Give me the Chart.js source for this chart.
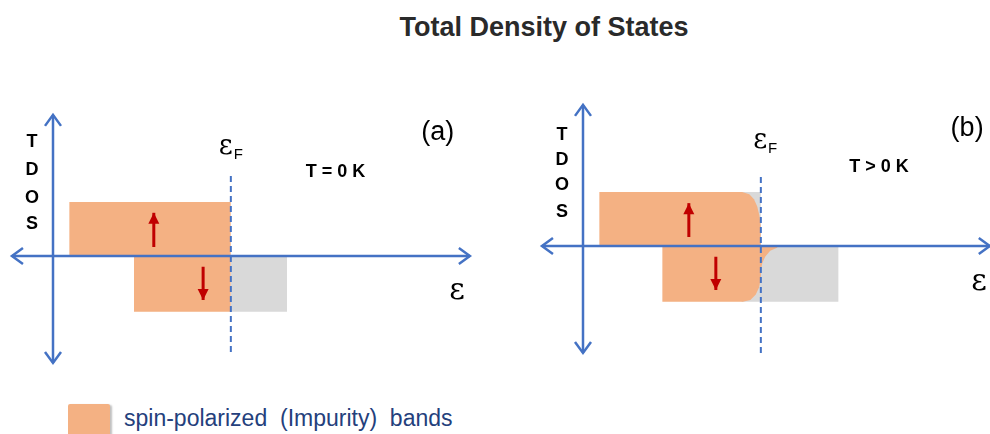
<!DOCTYPE html>
<html>
<head>
<meta charset="utf-8">
<title>Total Density of States</title>
<script src="https://cdn.jsdelivr.net/npm/chart.js@4.4.1/dist/chart.umd.min.js"></script>
<style>
  html, body { margin: 0; padding: 0; width: 990px; height: 434px; overflow: hidden; background: #fff; }
  .title {
    position: absolute; left: 0; width: 1088px; top: 12px; text-align: center;
    font: bold 27px "Liberation Sans", Arial, sans-serif; color: #2a2a2a;
  }
  .panel { position: absolute; }
  #panelA { left: -1px; top: 94px; }
  #panelB { left: 529px; top: 84px; }
  .legend { position: absolute; left: 68px; top: 404px; }
  .legend .swatch {
    position: absolute; left: 0; top: 0; width: 42px; height: 40px;
    background: #f4b183; border-radius: 2px; box-shadow: 2px 1px 2px rgba(0,0,0,0.25);
  }
  .legend .label {
    position: absolute; left: 56px; top: 1px; white-space: nowrap;
    font: 23px "Liberation Sans", Arial, sans-serif; color: #24407c;
  }
</style>
</head>
<body>
<div class="title">Total Density of States</div>
<div class="panel" id="panelA"><canvas id="dosA" width="504" height="306"></canvas></div>
<div class="panel" id="panelB"><canvas id="dosB" width="504" height="306"></canvas></div>
<div class="legend"><div class="swatch"></div><div class="label">spin-polarized &nbsp;(Impurity) &nbsp;bands</div></div>

<script>
// Energy (x) and density of states (y) in schematic units, origin at the axis crossing.
const fermiLevel = 4.94;

// (a) T = 0 K: sharp band edges at the Fermi level
const spinUpBandA = [{x: 0.45, y: 0}, {x: 0.45, y: 1.5}, {x: 4.94, y: 1.5}, {x: 4.94, y: 0}];
const spinDownBandA = [{x: 2.25, y: 0}, {x: 2.25, y: -1.55}, {x: 4.94, y: -1.55}, {x: 4.94, y: 0}];
const emptyDownA = [{x: 4.94, y: 0}, {x: 4.94, y: -1.55}, {x: 6.5, y: -1.55}, {x: 6.5, y: 0}];

// (b) T > 0 K: occupation smeared around the Fermi level
const spinUpBandB = [
  {x: 0.45, y: 0}, {x: 0.45, y: 1.5}, {x: 4.42, y: 1.5}, {x: 4.62, y: 1.44},
  {x: 4.75, y: 1.3}, {x: 4.84, y: 1.1}, {x: 4.9, y: 0.85}, {x: 4.94, y: 0.55}, {x: 4.94, y: 0}
];
const spinDownBandB = [
  {x: 2.2, y: 0}, {x: 2.2, y: -1.55}, {x: 4.44, y: -1.55}, {x: 4.65, y: -1.5},
  {x: 4.8, y: -1.35}, {x: 4.89, y: -1.15}, {x: 4.94, y: -0.9}, {x: 4.94, y: -0.68},
  {x: 4.98, y: -0.48}, {x: 5.06, y: -0.3}, {x: 5.2, y: -0.13}, {x: 5.39, y: -0.05}, {x: 5.42, y: 0}
];
const emptyUpB = [{x: 4.4, y: 0}, {x: 4.4, y: 1.5}, {x: 4.94, y: 1.5}, {x: 4.94, y: 0}];
const emptyDownB = [{x: 4.4, y: 0}, {x: 4.4, y: -1.55}, {x: 7.1, y: -1.55}, {x: 7.1, y: 0}];

// axes, Fermi level marker and spin arrows
const energyAxisA = [{x: -1.14, y: 0}, {x: 11.58, y: 0}];
const energyAxisB = [{x: -1.14, y: 0}, {x: 11.3, y: 0}];
const dosAxis = [{x: 0, y: -2.97}, {x: 0, y: 3.92}];
const fermiA = [{x: fermiLevel, y: -2.67}, {x: fermiLevel, y: 2.33}];
const fermiB = [{x: fermiLevel, y: -2.97}, {x: fermiLevel, y: 2.03}];
const spinUpArrowA = [{x: 2.8, y: 0.25}, {x: 2.8, y: 1.2}];
const spinDownArrowA = [{x: 4.17, y: -0.3}, {x: 4.17, y: -1.22}];
const spinUpArrowB = [{x: 2.94, y: 0.25}, {x: 2.94, y: 1.19}];
const spinDownArrowB = [{x: 3.69, y: -0.3}, {x: 3.69, y: -1.22}];

const ORANGE = '#f4b183';
const GREY = '#d9d9d9';
const BLUE = '#4472c4';
const RED = '#c00000';

// Draws arrow heads at the ends of datasets that ask for them.
const arrowHeads = {
  id: 'arrowHeads',
  afterDatasetsDraw(chart) {
    const ctx = chart.ctx;
    chart.data.datasets.forEach((ds, i) => {
      if (!ds.arrow) return;
      const pts = chart.getDatasetMeta(i).data;
      const n = pts.length;
      const ends = [[pts[n - 2], pts[n - 1]]];
      if (ds.arrow.both) ends.push([pts[1], pts[0]]);
      ends.forEach(([from, tip]) => {
        const a = Math.atan2(tip.y - from.y, tip.x - from.x);
        const len = ds.arrow.length, half = ds.arrow.width / 2;
        const bx = tip.x - len * Math.cos(a), by = tip.y - len * Math.sin(a);
        const px = -Math.sin(a) * half, py = Math.cos(a) * half;
        ctx.save();
        ctx.strokeStyle = ds.borderColor;
        ctx.fillStyle = ds.borderColor;
        ctx.lineWidth = ds.borderWidth;
        ctx.lineJoin = 'miter';
        ctx.beginPath();
        ctx.moveTo(bx + px, by + py);
        ctx.lineTo(tip.x, tip.y);
        ctx.lineTo(bx - px, by - py);
        if (ds.arrow.filled) {
          ctx.closePath();
          ctx.fill();
        } else {
          ctx.stroke();
        }
        ctx.restore();
      });
    });
  }
};

// Text placed in data coordinates.
const panelLabels = {
  id: 'panelLabels',
  afterDraw(chart, args, opts) {
    const ctx = chart.ctx;
    const xs = chart.scales.x, ys = chart.scales.y;
    (opts.items || []).forEach(item => {
      const px = xs.getPixelForValue(item.x), py = ys.getPixelForValue(item.y);
      ctx.save();
      ctx.fillStyle = item.color || '#000';
      ctx.font = item.font;
      ctx.textAlign = 'center';
      ctx.textBaseline = 'middle';
      ctx.fillText(item.text, px, py);
      if (item.sub) {
        const w = ctx.measureText(item.text).width;
        ctx.font = item.subFont;
        ctx.textAlign = 'left';
        ctx.fillText(item.sub, px + w / 2 + 1, py + 8);
      }
      ctx.restore();
    });
  }
};

const area = (data, color, order) => ({
  data, order, backgroundColor: color, borderColor: color, borderWidth: 0,
  fill: 'origin', tension: 0, pointRadius: 0
});
const stroke = (data, color, width, order, extra) => Object.assign({
  data, order, borderColor: color, borderWidth: width, fill: false, tension: 0, pointRadius: 0
}, extra);

const boldFont = 'bold 18px "Liberation Sans", Arial, sans-serif';
const epsFont = '30px "DejaVu Serif", "Liberation Serif", serif';
const epsFFont = '27px "DejaVu Serif", "Liberation Serif", serif';
const subFont = '15px "Liberation Sans", sans-serif';
const tdos = (x, ys) => ['T', 'D', 'O', 'S'].map((t, k) => ({text: t, x, y: ys[k], font: boldFont}));

const buildChart = (id, datasets, labels) => new Chart(document.getElementById(id), {
  type: 'line',
  data: {datasets},
  options: {
    responsive: false,
    animation: false,
    devicePixelRatio: 1,
    layout: {padding: 0},
    events: [],
    scales: {
      x: {type: 'linear', min: -1.5, max: 12.5, display: false},
      y: {type: 'linear', min: -4, max: 4.5, display: false}
    },
    plugins: {
      legend: {display: false},
      tooltip: {enabled: false},
      panelLabels: {items: labels}
    }
  },
  plugins: [arrowHeads, panelLabels]
});

const axisArrow = {both: true, filled: false, length: 11, width: 16};
const spinArrow = {both: false, filled: true, length: 11, width: 11};

buildChart('dosA', [
  stroke(energyAxisA, BLUE, 2.5, 0, {arrow: axisArrow}),
  stroke(dosAxis, BLUE, 2.5, 0, {arrow: axisArrow}),
  stroke(spinUpArrowA, RED, 3, 0, {arrow: spinArrow}),
  stroke(spinDownArrowA, RED, 3, 0, {arrow: spinArrow}),
  stroke(fermiA, BLUE, 2, 1, {borderDash: [6, 4]}),
  area(spinUpBandA, ORANGE, 2),
  area(spinDownBandA, ORANGE, 2),
  area(emptyDownA, GREY, 3)
], [
  ...tdos(-0.58, [3.17, 2.39, 1.61, 0.88]),
  {text: 'ε', sub: 'F', x: 4.8, y: 3.03, font: epsFFont, subFont},
  {text: 'T = 0 K', x: 7.85, y: 2.33, font: 'bold 18px "Liberation Sans", Arial, sans-serif'},
  {text: '(a)', x: 10.69, y: 3.42, font: '27px "Liberation Sans", Arial, sans-serif'},
  {text: 'ε', x: 11.22, y: -0.97, font: epsFont}
]);

buildChart('dosB', [
  stroke(energyAxisB, BLUE, 2.5, 0, {arrow: axisArrow}),
  stroke(dosAxis, BLUE, 2.5, 0, {arrow: axisArrow}),
  stroke(spinUpArrowB, RED, 3, 0, {arrow: spinArrow}),
  stroke(spinDownArrowB, RED, 3, 0, {arrow: spinArrow}),
  stroke(fermiB, BLUE, 2, 1, {borderDash: [6, 4]}),
  area(spinUpBandB, ORANGE, 2),
  area(spinDownBandB, ORANGE, 2),
  area(emptyUpB, GREY, 3),
  area(emptyDownB, GREY, 3)
], [
  ...tdos(-0.58, [3.08, 2.39, 1.69, 0.94]),
  {text: 'ε', sub: 'F', x: 4.92, y: 2.93, font: epsFFont, subFont},
  {text: 'T > 0 K', x: 8.22, y: 2.19, font: 'bold 18px "Liberation Sans", Arial, sans-serif'},
  {text: '(b)', x: 10.67, y: 3.25, font: '27px "Liberation Sans", Arial, sans-serif'},
  {text: 'ε', x: 11.0, y: -1.0, font: epsFont}
]);
</script>
</body>
</html>
